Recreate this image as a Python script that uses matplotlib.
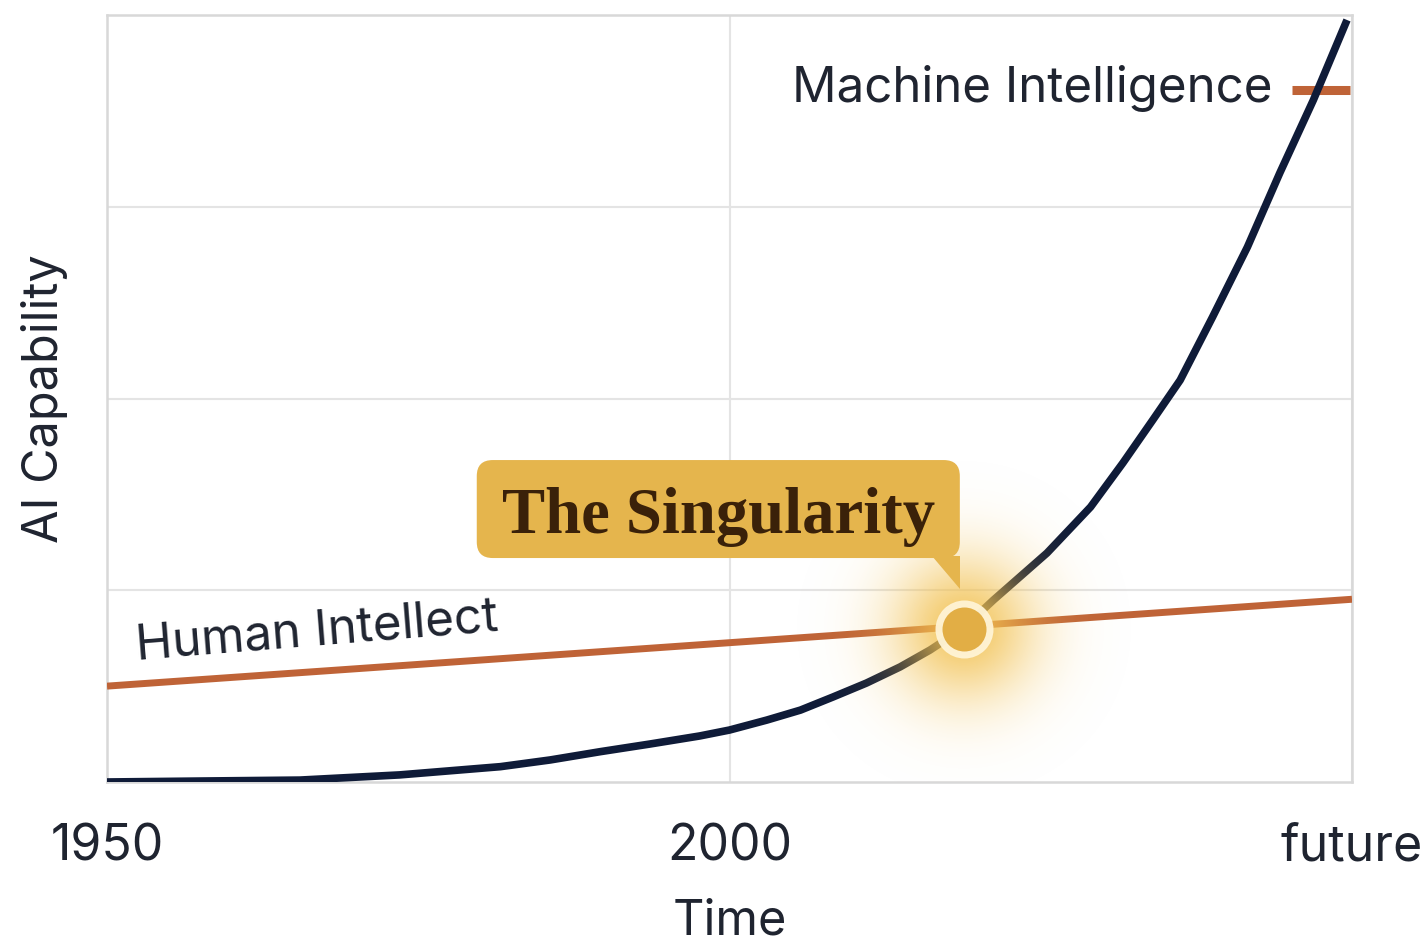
import numpy as np
import matplotlib
matplotlib.use('Agg')
import matplotlib.pyplot as plt
from matplotlib.patches import FancyBboxPatch, Polygon

# #### Data
years_machine = [1950.0, 1957.5, 1965.5, 1973.5, 1981.6, 1985.6, 1989.6, 1993.6, 1997.6,
                 2000.0, 2003.0, 2005.7, 2008.3, 2011.0, 2013.7, 2016.1, 2018.8, 2021.2,
                 2025.5, 2029.0, 2031.6, 2034.0, 2036.2, 2038.8, 2041.6, 2044.2, 2046.9,
                 2049.6]
cap_machine   = [0.000, 0.005, 0.010, 0.037, 0.080, 0.115, 0.158, 0.198, 0.240,
                 0.271, 0.323, 0.375, 0.443, 0.516, 0.600, 0.688, 0.803, 0.949,
                 1.194, 1.434, 1.664, 1.888, 2.096, 2.425, 2.790, 3.176, 3.557,
                 3.974]

years_human = [1950.0, 2050.0]
cap_human   = [0.50, 0.953]

singularity = (2018.8, 0.80)

x_ticks  = [1950, 2000, 2050]
x_labels = ['1950', '2000', 'future']
y_grid   = [1, 2, 3]

# #### Style
navy     = '#0F1B38'
orange   = '#BF6337'
gold     = '#E2AE45'
box_gold = '#E5B54D'
txt_dark = '#1F2430'
grid_col = '#E4E4E4'
sans  = ['Inter', 'DejaVu Sans']
serif = ['Liberation Serif', 'DejaVu Serif']

W, H = 1424, 943
fig = plt.figure(figsize=(W/100, H/100), dpi=100)
ax = fig.add_axes([107/W, 1-782/H, (1352-107)/W, (782-15)/H])

ax.set_xlim(1950, 2050)
ax.set_ylim(0, 4)
ax.set_xticks(x_ticks)
ax.set_xticklabels(x_labels)
ax.set_yticks(y_grid)
ax.set_yticklabels([])
ax.tick_params(length=0, pad=30, labelsize=36, labelcolor=txt_dark)
for lbl in ax.get_xticklabels():
    lbl.set_family(sans)
ax.grid(True, color=grid_col, lw=1.5, zorder=0)
ax.set_axisbelow(True)
for sp in ax.spines.values():
    sp.set_color('#D8D8D8')
    sp.set_linewidth(1.8)

ax.set_xlabel('Time', fontsize=35, family=sans, color=txt_dark, labelpad=20)
ax.set_ylabel('AI Capability', fontsize=35, family=sans, color=txt_dark)
ax.yaxis.set_label_coords(-0.031, 0.5)

# px -> data helpers for the annotation geometry
px_x = 50/622.5
px_y = 1/191.75

# lines
ax.plot(years_human, cap_human, color=orange, lw=5, solid_capstyle='butt', zorder=3)
ax.plot(years_machine, cap_machine, color=navy, lw=5.5, solid_capstyle='butt',
        solid_joinstyle='round', zorder=4)

# labels
ax.text(1952.4, 0.64, 'Human Intellect', fontsize=35.5, family=sans, color=txt_dark,
        rotation=4.6, rotation_mode='anchor', ha='left', va='baseline', zorder=5)
ax.text(2043.65, 3.546, 'Machine Intelligence', fontsize=35.5, family=sans, color=txt_dark,
        ha='right', va='baseline', zorder=5)
ax.plot([2045.2, 2049.8], [3.61, 3.61], color=orange, lw=6.5, solid_capstyle='butt', zorder=3.5)

# soft glow around the crossing
R = 180
gx, gy = np.meshgrid(np.linspace(-R, R, 361), np.linspace(-R, R, 361))
rr = np.hypot(gx, gy)
glow = np.zeros((361, 361, 4))
glow[..., :3] = matplotlib.colors.to_rgb('#F2C150')
glow[..., 3] = 0.88*np.exp(-(rr/72)**2)
sx, sy = singularity
ax.imshow(glow, extent=[sx-R*px_x, sx+R*px_x, sy-R*px_y, sy+R*px_y],
          aspect='auto', origin='lower', interpolation='bilinear', zorder=6)
ax.set_xlim(1950, 2050)
ax.set_ylim(0, 4)

ax.scatter(*singularity, s=(2*29*0.72)**2, color='#FFF4D6', alpha=0.95, lw=0, zorder=7)
ax.scatter(*singularity, s=(2*22*0.72)**2, color=gold, lw=0, zorder=8)

# callout box
bx0, bx1 = 1979.7, 2018.5
by0, by1 = 1.168, 1.679
box = FancyBboxPatch((bx0, by0), bx1-bx0, by1-by0,
                     boxstyle='round,pad=0,rounding_size=%f' % (16*px_x),
                     mutation_aspect=px_y/px_x, fc=box_gold, ec='none', zorder=9)
ax.add_patch(box)
tail = Polygon([(2016.3, by0+0.01), (bx1, by0+0.01), (bx1, 1.005)],
               closed=True, fc=box_gold, ec='none', zorder=9)
ax.add_patch(tail)
ax.text((bx0+bx1)/2, 1.30, 'The Singularity', fontsize=46.5, family=serif, weight='bold',
        color='#3A2109', ha='center', va='baseline', zorder=10)

fig.savefig('out.png', dpi=100, facecolor='w')
